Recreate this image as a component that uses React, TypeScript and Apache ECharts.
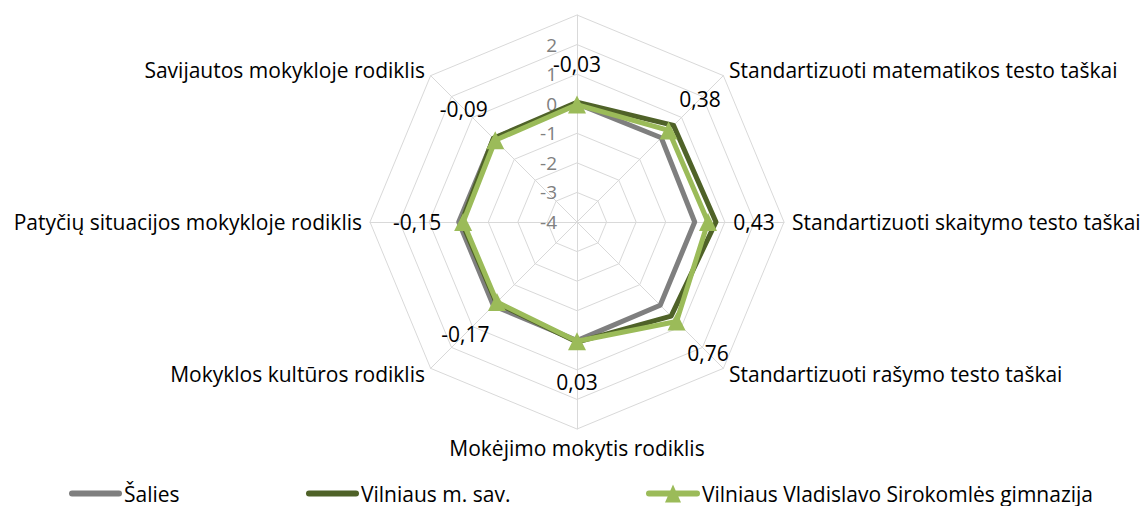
import React, { useEffect, useRef } from "react";
import * as echarts from "echarts";

// Indicators, clockwise from the top (as in the reference)
const indicatorNames = [
  "",
  "Standartizuoti matematikos testo taškai",
  "Standartizuoti skaitymo testo taškai",
  "Standartizuoti rašymo testo taškai",
  "Mokėjimo mokytis rodiklis",
  "Mokyklos kultūros rodiklis",
  "Patyčių situacijos mokykloje rodiklis",
  "Savijautos mokykloje rodiklis",
];
const seriesNames = ["Šalies", "Vilniaus m. sav.", "Vilniaus Vladislavo Sirokomlės gimnazija"];
const saliesValues = [0.0, 0.03, -0.02, -0.02, 0.01, 0.0, 0.0, -0.01];
const vilniusValues = [0.05, 0.62, 0.7, 0.5, 0.06, -0.14, -0.1, 0.0];
const gimnazijaValues = [-0.03, 0.38, 0.43, 0.76, 0.03, -0.17, -0.15, -0.09];
const axisMin = -4;
const axisMax = 3;
const axisStep = 1;

const FONT = "'Open Sans', 'Liberation Sans', sans-serif";
const colors = ["#7f7f7f", "#4f6228", "#9bbb59"];

// ECharts radar goes counter-clockwise; map clockwise order onto it
const toEc = <T,>(arr: T[]): T[] => [arr[0], ...arr.slice(1).reverse()];
const ecIndexOf = (cwIdx: number) => (cwIdx === 0 ? 0 : indicatorNames.length - cwIdx);
const fmt = (v: number) => v.toFixed(2).replace(".", ",");

export default function App() {
  const ref = useRef<HTMLDivElement>(null);
  useEffect(() => {
    if (!ref.current) return;
    const chart = echarts.init(ref.current, undefined, { renderer: "svg" });
    const n = indicatorNames.length;
    const indicator = toEc(indicatorNames).map((name, i) => {
      const ind: any = { name, min: axisMin, max: axisMax };
      if (i === 0) {
        ind.axisLabel = {
          show: true,
          color: "#808080",
          fontSize: 19,
          fontFamily: FONT,
          margin: 20,
          showMaxLabel: false,
        };
      } else {
        ind.axisLabel = { show: false };
      }
      return ind;
    });

    const labelItems = gimnazijaValues.map((val, cw) => {
      const theta = (cw * 2 * Math.PI) / n;
      const d = 41 + 5 * Math.abs(Math.sin(theta));
      const k = ecIndexOf(cw);
      return {
        value: toEc(gimnazijaValues),
        label: {
          show: true,
          position: "inside",
          offset: [d * Math.sin(theta), -d * Math.cos(theta)],
          color: "#000",
          fontSize: 21,
          fontFamily: FONT,
          formatter: (p: any) => {
            if (p.dimensionIndex != null) return p.dimensionIndex === k ? fmt(p.value) : "";
            return p.value === val ? fmt(p.value) : "";
          },
        },
      };
    });

    const mkLegend = (name: string, left: number, icon: string, w: number, h: number) => ({
      data: [name],
      left,
      top: 478,
      icon,
      itemWidth: w,
      itemHeight: h,
      itemGap: 0,
      textStyle: { color: "#000", fontSize: 21, fontFamily: FONT, padding: [0, 0, 0, -3] },
      selectedMode: false,
    });
    const lineIcon = "path://M3,0 H50 A3,3 0 0 1 50,6 H3 A3,3 0 0 1 3,0 Z";
    const triIcon =
      "path://M3,7 H51 A3,3 0 0 1 51,13 H3 A3,3 0 0 1 3,7 Z M19,19 L27,1 L35,19 Z";

    chart.setOption({
      animation: false,
      backgroundColor: "#fff",
      radar: {
        center: [577, 222],
        radius: 207,
        startAngle: 90,
        shape: "polygon",
        splitNumber: (axisMax - axisMin) / axisStep,
        indicator,
        axisName: { color: "#000", fontSize: 21, fontFamily: FONT },
        axisNameGap: 8,
        axisLine: { lineStyle: { color: "#d9d9d9", width: 1 } },
        splitLine: { lineStyle: { color: "#d9d9d9", width: 1 } },
        splitArea: { show: false },
        axisTick: { show: false },
      },
      legend: [
        mkLegend(seriesNames[0], 64, lineIcon, 53, 6),
        mkLegend(seriesNames[1], 301, lineIcon, 53, 6),
        mkLegend(seriesNames[2], 641, triIcon, 54, 19),
      ],
      series: [
        {
          type: "radar",
          name: seriesNames[0],
          z: 2,
          symbol: "none",
          lineStyle: { color: colors[0], width: 5 },
          itemStyle: { color: colors[0] },
          data: [{ value: toEc(saliesValues), name: seriesNames[0] }],
        },
        {
          type: "radar",
          name: seriesNames[1],
          z: 3,
          symbol: "none",
          lineStyle: { color: colors[1], width: 5 },
          itemStyle: { color: colors[1] },
          data: [{ value: toEc(vilniusValues), name: seriesNames[1] }],
        },
        {
          type: "radar",
          name: seriesNames[2],
          z: 4,
          symbol: "triangle",
          symbolSize: 18,
          lineStyle: { color: colors[2], width: 5 },
          itemStyle: { color: colors[2] },
          data: [{ value: toEc(gimnazijaValues), name: seriesNames[2] }],
        },
        {
          type: "radar",
          name: "labels",
          z: 5,
          silent: true,
          symbol: "circle",
          symbolSize: 1,
          lineStyle: { color: "rgba(0,0,0,0)", width: 0 },
          itemStyle: { color: "rgba(0,0,0,0)" },
          data: labelItems,
        },
      ],
    });
    return () => chart.dispose();
  }, []);
  return (
    <div
      ref={ref}
      style={{ position: "fixed", left: 0, top: 0, width: 1147, height: 506, background: "#fff" }}
    />
  );
}
